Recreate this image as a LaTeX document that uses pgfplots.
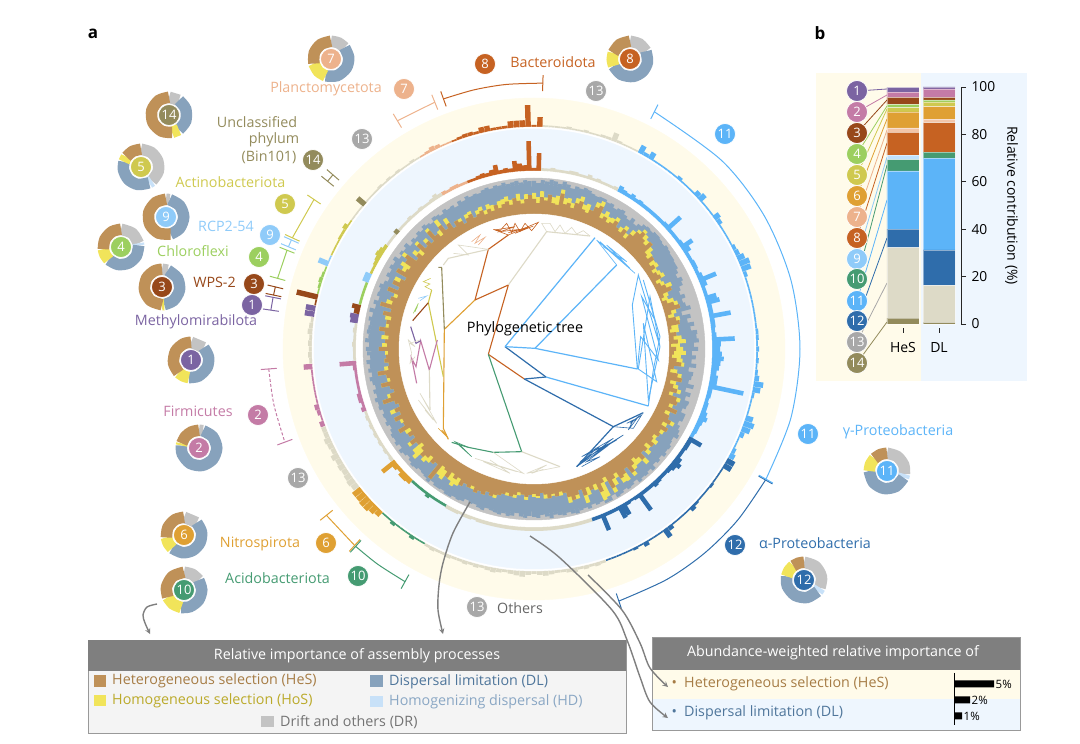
\documentclass[border=0pt]{standalone}
\usepackage{fontspec}
\setmainfont{Open Sans}
\usepackage{pgfplots}
\usepackage{pgfplotstable}
\usepgfplotslibrary{polar}
\pgfplotsset{compat=1.18}

\definecolor{c1}{HTML}{7B64A2}
\definecolor{c2}{HTML}{C47BA6}
\definecolor{c3}{HTML}{97481A}
\definecolor{c4}{HTML}{9CCF5F}
\definecolor{c5}{HTML}{CFC94F}
\definecolor{c6}{HTML}{DFA033}
\definecolor{c7}{HTML}{EDB28C}
\definecolor{c8}{HTML}{C66222}
\definecolor{c9}{HTML}{8FCBF9}
\definecolor{c10}{HTML}{459B72}
\definecolor{c11}{HTML}{5CB4F8}
\definecolor{c12}{HTML}{2F6DAB}
\definecolor{c13}{HTML}{DDDAC7}
\definecolor{n13}{HTML}{A8A8A8}
\definecolor{c14}{HTML}{938B5C}
\definecolor{hes}{HTML}{BF9158}
\definecolor{hos}{HTML}{F1E45A}
\definecolor{dl}{HTML}{87A2BC}
\definecolor{hd}{HTML}{C8E1F8}
\definecolor{dr}{HTML}{C3C3C3}
\definecolor{payel}{HTML}{FFFBEA}
\definecolor{pablu}{HTML}{EEF6FE}
\definecolor{hdr}{HTML}{7F7F7F}
\definecolor{thes}{HTML}{A67C45}
\definecolor{thos}{HTML}{BBAA2A}
\definecolor{tdl}{HTML}{4F769B}
\definecolor{thd}{HTML}{8AA7C4}

% t = degrees clockwise from the top; a,b,c = outer radius of HeS, HoS, DL
% d,e = outer radius of the bar in the blue and yellow band; p = phylum
\pgfplotstableread{
t a b c d e p
0 150 156 168 181 224 8
1.5 146 152 166 196 232 8
3 152 158 169 181 224 13
4.5 149 152 168 181 224 13
6 155 155 170 182 224 13
7.5 147 153 169 181 224 13
9 146 155 167 181 225 13
10.5 158 162 170 181 224 13
12 148 154 168 182 224 13
13.5 150 155 165 182 225 13
15 146 151 168 181 224 13
16.5 152 157 167 181 224 13
18 155 160 169 183 225 13
19.5 148 153 168 181 225 13
21 146 155 166 182 231 13
22.5 150 150 165 181 225 13
24 155 160 166 181 224 13
25.5 158 163 166 181 224 13
27 147 152 164 182 224 13
28.5 150 156 165 185 231 11
30 146 152 162 183 226 11
31.5 148 153 164 182 230 11
33 152 156 165 184 224 11
34.5 147 147 162 182 224 11
36 145 150 160 183 224 11
37.5 150 154 164 182 224 11
39 143 148 160 182 224 11
40.5 150 155 163 182 226 11
42 156 159 166 182 224 11
43.5 160 163 167 182 224 11
45 155 160 166 182 224 11
46.5 152 157 168 183 228 11
48 158 158 168 197 230 11
49.5 147 155 167 182 224 11
51 145 151 166 182 224 11
52.5 150 150 168 182 224 11
54 143 149 167 183 229 11
55.5 146 150 166 192 227 11
57 141 146 166 186 224 11
58.5 144 148 165 182 224 11
60 146 150 165 182 224 11
61.5 139 144 163 183 224 11
63 142 146 160 183 226 11
64.5 146 152 164 182 227 11
66 150 150 162 184 230 11
67.5 140 145 158 197 233 11
69 137 143 156 185 232 11
70.5 141 148 160 182 226 11
72 147 151 156 182 224 11
73.5 152 152 158 190 224 11
75 142 147 162 192 224 11
76.5 138 144 152 183 224 11
78 145 149 160 183 224 11
79.5 148 148 156 200 224 11
81 139 146 162 183 224 11
82.5 137 146 158 183 224 11
84 143 143 164 182 224 11
85.5 140 148 163 183 225 11
87 144 152 165 201 225 11
88.5 137 146 160 187 224 11
90 142 149 164 186 225 11
91.5 140 152 158 188 224 11
93 138 147 162 190 225 11
94.5 143 149 158 187 224 11
96 148 151 163 186 225 11
97.5 141 141 156 184 227 11
99 138 145 161 186 232 11
100.5 146 150 160 186 230 11
102 151 151 158 214 225 11
103.5 140 146 164 183 224 11
105 144 149 157 183 224 11
106.5 149 153 163 182 224 11
108 142 146 159 183 230 11
109.5 151 155 164 183 233 11
111 153 153 163 185 231 11
112.5 146 150 160 187 227 11
114 156 156 165 184 224 11
115.5 145 150 165 183 224 11
117 151 151 162 183 226 11
118.5 155 159 165 182 228 11
120 148 153 167 193 231 12
121.5 156 156 169 183 231 12
123 150 154 165 183 224 12
124.5 152 152 166 182 224 12
126 147 151 168 182 224 12
127.5 149 155 167 185 225 12
129 153 153 169 188 224 12
130.5 146 152 166 185 224 12
132 151 156 168 183 224 12
133.5 149 149 166 182 225 12
135 155 161 170 182 227 12
136.5 150 155 167 183 224 12
138 147 155 169 184 224 12
139.5 152 157 168 182 224 12
141 158 162 170 182 224 12
142.5 150 150 166 182 227 12
144 154 162 168 199 232 12
145.5 156 161 169 182 224 12
147 148 153 167 181 224 12
148.5 152 159 169 182 224 12
150 160 165 170 191 227 12
151.5 146 151 166 192 224 12
153 150 165 170 182 225 12
154.5 158 167 170 182 224 12
156 148 154 167 182 224 12
157.5 152 152 168 196 224 12
159 148 156 166 182 224 12
160.5 155 163 169 182 224 12
162 148 148 167 182 225 13
163.5 152 156 168 182 226 13
165 156 156 170 182 225 13
166.5 152 158 169 182 226 13
168 147 147 167 182 225 13
169.5 145 149 169 182 227 13
171 149 149 168 182 226 13
172.5 146 148 167 182 225 13
174 150 150 170 182 225 13
175.5 146 150 168 182 226 13
177 144 144 166 182 227 13
178.5 147 149 169 182 226 13
180 145 148 168 182 225 13
181.5 146 146 167 182 226 13
183 148 151 169 182 228 13
184.5 146 146 168 182 227 13
186 144 147 165 182 226 13
187.5 147 150 168 182 225 13
189 149 149 169 182 226 13
190.5 146 149 167 182 227 13
192 148 148 169 182 226 13
193.5 150 150 168 182 225 13
195 151 154 167 182 226 13
196.5 153 153 166 182 225 13
198 150 150 169 182 226 13
199.5 154 154 168 181 225 13
201 152 152 166 182 225 13
202.5 155 155 167 182 226 13
204 150 153 165 181 225 13
205.5 153 153 168 182 225 13
207 151 151 169 182 226 13
208.5 155 155 168 182 225 13
210 149 157 170 181 224 10
211.5 152 160 170 181 224 10
213 148 156 168 181 226 10
214.5 155 155 169 181 224 10
216 150 160 169 183 224 10
217.5 148 158 167 181 224 10
219 166 166 170 181 226 10
220.5 150 150 168 181 224 10
222 153 153 167 181 224 10
223.5 148 155 166 184 229 6
225 152 158 168 185 231 6
226.5 155 155 169 185 233 6
228 150 162 167 182 233 6
229.5 146 158 165 184 232 6
231 150 150 167 195 232 6
232.5 155 158 169 182 229 13
234 148 148 165 181 230 13
235.5 152 152 168 182 229 13
237 147 153 166 181 228 13
238.5 158 158 167 182 229 13
240 150 150 165 181 228 13
241.5 149 152 163 182 230 13
243 156 156 166 181 227 13
244.5 148 148 164 182 228 13
246 152 157 165 181 229 13
247.5 146 146 163 182 227 13
249 149 149 166 181 227 13
250.5 160 160 165 183 227 2
252 151 154 167 181 224 2
253.5 146 146 164 183 226 2
255 149 149 166 183 227 2
256.5 157 157 163 181 224 2
258 147 150 165 181 224 2
259.5 150 150 167 181 224 2
261 158 158 164 181 224 2
262.5 147 151 167 181 224 2
264 146 146 165 182 224 2
265.5 150 150 168 195 231 2
267 148 148 164 181 225 13
268.5 146 149 167 181 226 13
270 155 155 168 181 225 13
271.5 147 152 165 182 226 13
273 149 149 169 181 225 13
274.5 146 153 166 181 227 13
276 150 150 168 182 226 13
277.5 156 156 167 181 225 13
279 147 150 166 186 232 1
280.5 150 150 168 187 232 1
282 146 152 165 184 224 3
283.5 155 155 169 187 244 3
285 148 148 164 181 224 4
286.5 160 160 167 181 225 4
288 149 155 163 181 226 4
289.5 152 152 166 181 225 4
291 146 150 165 181 224 4
292.5 158 158 167 185 233 9
294 148 148 164 185 224 9
295.5 156 156 161 181 224 5
297 150 156 165 181 224 5
298.5 146 146 163 182 224 5
300 158 158 166 183 225 5
301.5 150 154 164 185 225 5
303 148 158 167 184 227 5
304.5 155 155 162 182 224 5
306 158 162 165 181 224 13
307.5 147 147 163 181 224 13
309 150 155 166 181 224 13
310.5 145 151 161 183 232 14
312 156 159 164 181 224 13
313.5 148 148 162 181 224 13
315 151 155 165 181 224 13
316.5 147 147 163 182 225 13
318 158 161 166 181 224 13
319.5 150 150 164 181 225 13
321 146 152 162 182 224 13
322.5 155 162 166 181 225 13
324 148 148 165 181 224 13
325.5 152 158 163 182 224 13
327 145 145 166 184 225 13
328.5 150 150 164 182 224 13
330 147 150 165 182 224 7
331.5 143 143 162 181 225 7
333 147 151 166 182 227 7
334.5 149 152 164 182 226 7
336 144 144 167 181 224 7
337.5 146 150 165 181 224 7
339 148 152 166 181 224 8
340.5 143 147 165 181 225 8
342 147 152 167 182 226 8
343.5 144 150 168 183 226 8
345 149 149 166 182 225 8
346.5 145 152 168 184 228 8
348 148 153 167 188 228 8
349.5 150 155 169 182 225 8
351 146 151 167 183 225 8
352.5 152 152 168 182 225 8
354 149 156 169 189 229 8
355.5 146 150 167 186 229 8
357 150 155 169 184 229 8
358.5 154 154 168 208 244 8
}\rings

\pgfplotsset{
  pie/.style={hide axis,scale only axis,width=35.5pt,height=35.5pt,ymin=0,ymax=1,clip=false,
    anchor=center,x coord trafo/.code={\pgfmathparse{90-##1}}},
  ring/.style={polar comb,no marks,line cap=butt},
  px/.style={hide axis,scale only axis,clip=false,anchor=south west,y dir=reverse,clip mode=individual},
}
% one donut: centre in picture pixels, then its sectors
\newcommand\donut[3]{%
  \begin{polaraxis}[pie,at={(#1pt,{(744-#2)*1pt})}]#3\end{polaraxis}}
\newcommand\sct[2]{\addplot[#1,smooth,line width=11.5pt] coordinates {#2};}
% arc of a phylum around the rings, with its two end ticks
\newcommand\phy[5][]{%
  \addplot[#2,line width=1pt,smooth,#1] coordinates {(#3,266) #5 (#4,266)};
  \addplot[#2,line width=1pt] coordinates {(#3,258)(#3,274)};
  \addplot[#2,line width=1pt] coordinates {(#4,258)(#4,274)};}
% overlay helpers, all in picture pixels
\newcommand\rect[5]{\addplot[fill=#1,draw=none] coordinates {(#2,#3)(#4,#3)(#4,#5)(#2,#5)} -- cycle;}
\newcommand\nm[4]{\node[circle,fill=#4,draw=white,line width=.7pt,minimum size=21pt,inner sep=0pt,text=white,
  font=\fontsize{13}{14}\selectfont] at (axis cs:#1,#2) {#3};}
\newcommand\lab[4]{\node[text=#3,font=\fontsize{14.3}{16}\selectfont,inner sep=0pt] at (axis cs:#1,#2) {#4};}
\newcommand\lft[4]{\node[text=#3,font=\fontsize{14.3}{16}\selectfont,inner sep=0pt,anchor=west] at (axis cs:#1,#2) {#4};}
\newcommand\leader[3]{\addplot[#1,line width=.8pt] coordinates {(857,#2)(887,#3)};}
\newcommand\tree[3][.6pt]{\addplot[#2,line width=#1] coordinates {#3};}

\begin{document}
\begin{tikzpicture}
\path[use as bounding box] (0,0) rectangle (1080pt,744pt);

% ---- main rings ----
\begin{polaraxis}[at={(534pt,395pt)},anchor=center,hide axis,scale only axis,width=600pt,height=600pt,
    ymin=0,ymax=300,clip=false,clip mode=individual,x coord trafo/.code={\pgfmathparse{90-#1}},
    disc/.style={only marks,mark=*,mark size=#1,mark options={draw=none}}]
  \addplot[disc=251pt,payel] coordinates {(0,0)};
  \pgfplotsinvokeforeach{1,...,14}{
    \addplot[ring,c#1,line width=5.4pt,restrict expr to domain={\thisrow{p}}{#1:#1}] table[x=t,y=e] {\rings};
  }
  \addplot[disc=222pt,white] coordinates {(0,0)};
  \addplot[disc=220pt,pablu] coordinates {(0,0)};
  \pgfplotsinvokeforeach{1,...,14}{
    \addplot[ring,c#1,line width=4.6pt,restrict expr to domain={\thisrow{p}}{#1:#1}] table[x=t,y=d] {\rings};
  }
  \addplot[disc=178pt,white] coordinates {(0,0)};
  \addplot[disc=171pt,dr] coordinates {(0,0)};
  \addplot[ring,dl,line width=4pt] table[x=t,y=c] {\rings};
  \addplot[ring,hos,line width=4pt] table[x=t,y=b] {\rings};
  \addplot[ring,hes,line width=4pt] table[x=t,y=a] {\rings};
  \addplot[disc=135pt,white] coordinates {(0,0)};
  % phylum arcs
  \phy{c8}{1.9}{340.1}{(354,266)(347,266)}
  \phy{c7}{338.1}{329.1}{}
  \phy{c14}{310.9}{309.1}{}
  \phy{c5}{304.2}{294.7}{}
  \phy{c9}{294.2}{292.6}{}
  \phy{c4}{291.8}{285.4}{}
  \phy{c3}{283.5}{281.7}{}
  \phy{c1}{281.2}{278.4}{}
  \phy[densely dashed]{c2}{265.7}{249.5}{(258,266)}
  \phy{c6}{231.3}{222.4}{}
  \phy{c10}{222.1}{209}{(216,266)}
  \phy{c12}{161.4}{119.5}{(150,266)(140,266)(130,266)}
  \phy{c11}{119.3}{26.9}{(105,266)(90,266)(75,266)(60,266)(45,266)}
\end{polaraxis}

% ---- donuts (sector ends in degrees clockwise from the top) ----
\donut{331}{59}{
  \sct{dr}{(0,1)(25,1)(50,1)}\sct{dl}{(50,1)(85,1)(120,1)(160,1)(198,1)}
  \sct{hos}{(198,1)(225,1)(255,1)}\sct{hes}{(255,1)(290,1)(325,1)(360,1)}}
\donut{630}{59}{
  \sct{dr}{(0,1)(32,1)(64,1)}\sct{dl}{(64,1)(100,1)(135,1)(170,1)(210,1)(247,1)}
  \sct{hos}{(247,1)(268,1)(290,1)}\sct{hes}{(290,1)(325,1)(360,1)}}
\donut{169}{115}{
  \sct{dr}{(0,1)(34,1)}\sct{dl}{(34,1)(70,1)(110,1)(146,1)}
  \sct{hos}{(146,1)(170,1)}\sct{hes}{(170,1)(205,1)(245,1)(285,1)(325,1)(360,1)}}
\donut{141}{167}{
  \sct{dr}{(0,1)(35,1)(70,1)(105,1)(142,1)}\sct{hd}{(142,1)(153,1)}
  \sct{dl}{(153,1)(190,1)(225,1)(260,1)(287,1)}\sct{hos}{(287,1)(305,1)}\sct{hes}{(305,1)(332,1)(360,1)}}
\donut{166}{217}{
  \sct{dr}{(0,1)(12,1)}\sct{dl}{(12,1)(50,1)(90,1)(130,1)(165,1)}
  \sct{hes}{(165,1)(205,1)(245,1)(285,1)(325,1)(360,1)}}
\donut{121}{247}{
  \sct{dr}{(0,1)(40,1)(78,1)}\sct{hd}{(78,1)(85,1)}
  \sct{dl}{(85,1)(120,1)(155,1)(190,1)(224,1)}\sct{hos}{(224,1)(245,1)(263,1)}\sct{hes}{(263,1)(295,1)(330,1)(360,1)}}
\donut{162}{287}{
  \sct{dr}{(0,1)(19,1)}\sct{dl}{(19,1)(60,1)(100,1)(140,1)(173,1)}
  \sct{hos}{(173,1)(180,1)}\sct{hes}{(180,1)(220,1)(260,1)(300,1)(335,1)(360,1)}}
\donut{191}{360}{
  \sct{dr}{(0,1)(46,1)}\sct{dl}{(46,1)(80,1)(115,1)(155,1)(187,1)}
  \sct{hos}{(187,1)(205,1)(224,1)}\sct{hes}{(224,1)(260,1)(300,1)(335,1)(360,1)}}
\donut{199}{448}{
  \sct{dr}{(0,1)(13,1)}\sct{dl}{(13,1)(50,1)(90,1)(130,1)(170,1)(210,1)(250,1)(278,1)}
  \sct{hos}{(278,1)(285,1)}\sct{hes}{(285,1)(310,1)(335,1)(360,1)}}
\donut{184}{535}{
  \sct{dr}{(0,1)(46,1)}\sct{dl}{(46,1)(80,1)(115,1)(150,1)(185,1)(222,1)}
  \sct{hos}{(222,1)(242,1)(262,1)}\sct{hes}{(262,1)(295,1)(330,1)(360,1)}}
\donut{184}{590}{
  \sct{dr}{(0,1)(28,1)(56,1)}\sct{dl}{(56,1)(90,1)(125,1)(160,1)(189,1)}
  \sct{hos}{(189,1)(218,1)(246,1)}\sct{hes}{(246,1)(280,1)(320,1)(360,1)}}
\donut{887}{471}{
  \sct{dr}{(0,1)(35,1)(70,1)(100,1)}\sct{hd}{(100,1)(112,1)}
  \sct{dl}{(112,1)(150,1)(190,1)(230,1)(270,1)}\sct{hos}{(270,1)(292,1)(315,1)}\sct{hes}{(315,1)(338,1)(360,1)}}
\donut{804}{580}{
  \sct{dr}{(0,1)(40,1)(80,1)(116,1)}\sct{hd}{(116,1)(130,1)}
  \sct{dl}{(130,1)(170,1)(210,1)(250,1)(282,1)}\sct{hos}{(282,1)(303,1)(323,1)}\sct{hes}{(323,1)(342,1)(360,1)}}

% ---- everything in picture pixels ----
\begin{axis}[px,at={(0,0)},width=1080pt,height=744pt,xmin=0,xmax=1080,ymin=0,ymax=744]
  % panel b backdrop and leaders
  \rect{payel}{816}{73}{921}{381}
  \rect{pablu}{921}{73}{1027}{381}
  \leader{c1}{91}{89}\leader{c2}{112}{95}\leader{c3}{133}{100}\leader{c4}{154}{106}
  \leader{c5}{175}{109}\leader{c6}{196}{119}\leader{c7}{217}{130}\leader{c8}{238}{143}
  \leader{c9}{259}{157}\leader{c10}{279}{165}\leader{c11}{301}{200}\leader{c12}{321}{238}
  \leader{n13}{342}{283}\leader{c14}{363}{322}

  % left legend box
  \addplot[fill=black!4.5,draw=black!40,line width=.8pt] coordinates {(88,640)(626,640)(626,733)(88,733)} -- cycle;
  \rect{hdr}{88}{640}{626}{671}
  \node[text=white,font=\fontsize{14.3}{16}\selectfont] at (axis cs:357,656) {Relative importance of assembly processes};
  \rect{hes}{94}{675}{106}{687}\lft{112}{681}{thes}{Heterogeneous selection (HeS)}
  \rect{hos}{94}{695}{106}{706}\lft{112}{701}{thos}{Homogeneous selection (HoS)}
  \rect{dl}{370}{675}{383}{687}\lft{389}{682}{tdl}{Dispersal limitation (DL)}
  \rect{hd}{370}{696}{383}{707}\lft{389}{702}{thd}{Homogenizing dispersal (HD)}
  \rect{dr}{261}{716}{274}{727}\lft{280}{722}{black!55}{Drift and others (DR)}

  % right legend box
  \rect{hdr}{652}{637}{1020}{670}
  \rect{payel}{652}{670}{1020}{699}
  \rect{pablu}{652}{699}{1020}{730}
  \addplot[draw=black!40,line width=.8pt] coordinates {(652,637)(1020,637)(1020,730)(652,730)} -- cycle;
  \node[text=white,font=\fontsize{14.3}{16}\selectfont] at (axis cs:833,653) {Abundance-weighted relative importance of};
  \lft{671.5}{684}{thes}{•}\lft{684}{684}{thes}{Heterogeneous selection (HeS)}
  \lft{671.5}{713}{tdl}{•}\lft{684}{713}{tdl}{Dispersal limitation (DL)}

  % curved arrows, on top of the boxes
  \addplot[hdr,line width=1.4pt,smooth,-stealth] coordinates {(470,502)(453,533)(443,563)(439,585)(438,610)(443,634)};
  \addplot[hdr,line width=1.4pt,smooth,-stealth] coordinates {(157,604)(147,607)(143,615)(145,623)(150,634)};
  \addplot[hdr,line width=1.4pt,smooth,-stealth] coordinates {(530,536)(560,558)(612,610)(627,640)(640,677)(650,702)(668,718)};
  \addplot[hdr,line width=1.4pt,smooth,-stealth] coordinates {(588,575)(622,610)(640,643)(650,668)(668,687)};

  % panel letters
  \node[font=\fontsize{17}{18}\selectfont\bfseries] at (axis cs:93,34) {a};
  \node[font=\fontsize{17}{18}\selectfont\bfseries] at (axis cs:820,33) {b};

  % phylum names
  \lab{553}{62}{c8}{Bacteroidota}
  \lab{326}{89}{c7}{Planctomycetota}
  \lab{257}{122}{c14}{Unclassified}
  \lab{274}{140}{c14}{phylum}
  \lab{269}{157}{c14}{(Bin101)}
  \lab{230.5}{182}{c5}{Actinobacteriota}
  \lab{226}{226}{c9}{RCP2-54}
  \lab{193}{251}{c4}{Chloroflexi}
  \lab{214.5}{282}{c3}{WPS-2}
  \lab{196}{322}{c1}{Methylomirabilota}
  \lab{198}{411}{c2}{Firmicutes}
  \lab{260}{544}{c6}{Nitrospirota}
  \lab{277.5}{578}{c10}{Acidobacteriota}
  \lab{520}{608}{black!60}{Others}
  \lab{815}{543}{c12}{α-Proteobacteria}
  \lab{898}{432}{c11}{γ-Proteobacteria}

  % numbered circles beside the rings
  \nm{485}{64}{8}{c8}\nm{404}{89}{7}{c7}\nm{596}{91}{13}{n13}\nm{362}{139}{13}{n13}
  \nm{313}{160}{14}{c14}\nm{285}{204}{5}{c5}\nm{270}{235}{9}{c9}\nm{259}{257}{4}{c4}
  \nm{254}{284}{3}{c3}\nm{252}{305}{1}{c1}\nm{258}{415}{2}{c2}\nm{298}{478}{13}{n13}
  \nm{326}{543}{6}{c6}\nm{358}{576}{10}{c10}\nm{477}{607}{13}{n13}\nm{735}{545}{12}{c12}
  \nm{808}{434}{11}{c11}\nm{725}{134}{11}{c11}
  % numbered circles in the donuts
  \nm{331}{59}{7}{c7}\nm{630}{59}{8}{c8}\nm{169}{115}{14}{c14}\nm{141}{167}{5}{c5}
  \nm{166}{217}{9}{c9}\nm{121}{247}{4}{c4}\nm{162}{287}{3}{c3}\nm{191}{360}{1}{c1}
  \nm{199}{448}{2}{c2}\nm{184}{535}{6}{c6}\nm{184}{590}{10}{c10}\nm{887}{471}{11}{c11}
  \nm{804}{580}{12}{c12}
  % numbered circles in panel b
  \nm{857}{91}{1}{c1}\nm{857}{112}{2}{c2}\nm{857}{133}{3}{c3}\nm{857}{154}{4}{c4}
  \nm{857}{175}{5}{c5}\nm{857}{196}{6}{c6}\nm{857}{217}{7}{c7}\nm{857}{238}{8}{c8}
  \nm{857}{259}{9}{c9}\nm{857}{279}{10}{c10}\nm{857}{301}{11}{c11}\nm{857}{321}{12}{c12}
  \nm{857}{342}{13}{n13}\nm{857}{363}{14}{c14}
\end{axis}

% ---- phylogenetic tree, units are a third of a pixel ----
\begin{axis}[px,at={(400pt,264pt)},width=320pt,height=290pt,xmin=0,xmax=960,ymin=0,ymax=870]
  \tree[1.1pt]{c8}{(265,493)(325,285)(225,330)(265,178)(325,135)}
  \tree[1.1pt]{c8}{(265,493)(373,567)}
  \tree[1.1pt]{c6}{(225,330)(133,418)(130,715)(145,748)}
  \tree[1.1pt]{c5}{(130,560)(85,338)(95,300)}
  \tree{c5}{(95,300)(75,290)(90,282)(70,275)(92,265)}
  \tree[1.1pt]{c3}{(85,338)(38,392)}
  \tree[1.1pt]{c14}{(133,418)(125,232)(115,232)}
  \tree[1.1pt]{c13}{(325,285)(440,125)(570,138)}
  \tree{c13}{(440,125)(425,100)(450,100)(465,125)(480,105)(495,130)(515,112)(530,132)(550,122)(570,138)}
  \tree[1.1pt]{c13}{(265,178)(145,205)(130,225)}
  \tree{c13}{(265,178)(175,165)(205,195)(160,190)}
  \tree{c8}{(325,135)(415,97)(395,122)(375,100)(360,125)(345,100)(335,128)(320,100)(300,122)(280,118)(325,135)}
  \tree{c8}{(285,120)(345,110)(300,125)(360,118)(325,128)(385,112)(345,130)(400,108)}
  \tree{c7}{(215,155)(240,135)(225,160)(255,142)(235,165)}
  \tree[1.1pt]{c2}{(112,450)(88,540)(62,452)(48,530)(35,505)(50,580)}
  \tree[1.1pt]{c1}{(32,410)(48,460)(62,452)}
  \tree{c9}{(55,325)(80,318)(60,332)}
  \tree{c4}{(40,370)(55,340)(45,365)(52,350)}
  \tree[1.1pt]{c13}{(88,540)(90,660)}
  \tree{c13}{(90,660)(60,610)(110,700)(55,630)(100,690)(75,660)}
  \tree{c13}{(60,450)(30,460)(45,470)(25,450)(35,490)(30,520)(45,500)}
  \tree[1.1pt]{c10}{(265,493)(365,785)(280,787)(205,772)(155,757)}
  \tree{c10}{(205,772)(165,755)(215,800)(180,765)(205,790)}
  \tree[1.1pt]{c13}{(365,785)(480,830)}
  \tree{c13}{(480,830)(380,850)(440,825)(395,850)(430,838)}
  \tree{c13}{(280,787)(370,850)(225,805)(350,845)(250,815)(330,850)(270,810)}
  \tree{c6}{(115,715)(145,745)(125,720)(140,735)}
  \tree[1.2pt]{c12}{(373,567)(640,710)(730,668)}
  \tree[1.2pt]{c12}{(373,567)(438,561)}
  \tree[1.2pt]{c12}{(315,470)(438,561)}
  \tree[1.2pt]{c12}{(640,710)(530,830)}
  \tree{c12}{(640,710)(700,715)(725,675)(690,700)(715,680)(685,720)(700,690)(680,700)}
  \tree{c12}{(530,830)(670,735)(540,815)(650,750)(545,800)(640,745)(535,825)(590,775)(620,770)(560,815)(600,800)(545,830)}
  \tree[1.2pt]{c11}{(438,561)(745,648)}
  \tree[1.2pt]{c11}{(315,470)(585,143)}
  \tree[1.2pt]{c11}{(315,470)(405,475)(650,225)}
  \tree[1.2pt]{c11}{(405,475)(712,537)}
  \tree{c11}{(650,225)(590,150)(705,250)(600,155)(690,235)(620,165)(680,215)(610,170)(660,205)(640,190)}
  \tree[.9pt]{c11}{(712,537)(697,345)(715,255)(780,470)(745,630)(730,400)(770,575)(715,537)(750,320)(780,470)}
  \tree[.9pt]{c11}{(712,537)(722,440)(775,510)(725,320)(765,390)(730,270)(780,440)(760,540)(745,648)}
  \node[font=\fontsize{14.4}{16}\selectfont] at (axis cs:375,415) {Phylogenetic tree};
\end{axis}

% ---- panel b ----
\begin{axis}[scale only axis,at={(887pt,420pt)},anchor=south west,width=74pt,height=237pt,
    ybar stacked,bar width=32pt,xmin=-0.444,xmax=1.611,ymin=0,ymax=100,clip=false,
    axis y line=right,axis x line=none,
    ytick={0,20,...,100},y axis line style={-,line width=.9pt,black!85},
    tick style={black!85,line width=.8pt},major tick length=5pt,
    tick align=outside,
    yticklabel style={font=\fontsize{13.8}{15}\selectfont,xshift=2pt},
    /pgf/number format/assume math mode=true,
    ylabel={Relative contribution (\%)},ylabel shift=3pt,
    ylabel style={font=\fontsize{14}{16}\selectfont,rotate=180},
    every axis plot/.append style={draw=white,draw opacity=.45,line width=.4pt}]
  \addplot[fill=c14] coordinates {(0,2.5)(1,0.7)};
  \addplot[fill=c13] coordinates {(0,29.7)(1,15.6)};
  \addplot[fill=c12] coordinates {(0,7.8)(1,15)};
  \addplot[fill=c11] coordinates {(0,24.6)(1,38.7)};
  \addplot[fill=c10] coordinates {(0,4.8)(1,2.5)};
  \addplot[fill=c9!55!white] coordinates {(0,1.8)(1,0)};
  \addplot[fill=c8] coordinates {(0,9.6)(1,12.5)};
  \addplot[fill=c7!75!white] coordinates {(0,1.9)(1,1.4)};
  \addplot[fill=c6] coordinates {(0,6.8)(1,5.3)};
  \addplot[fill=c5] coordinates {(0,1.8)(1,2)};
  \addplot[fill=c4] coordinates {(0,1.4)(1,0.9)};
  \addplot[fill=c3] coordinates {(0,2.9)(1,1)};
  \addplot[fill=c2] coordinates {(0,2.2)(1,3.6)};
  \addplot[fill=c1] coordinates {(0,2)(1,0.8)};
  \node[font=\fontsize{14}{16}\selectfont] at (axis cs:0,-10) {HeS};
  \node[font=\fontsize{14}{16}\selectfont] at (axis cs:1,-10) {DL};
  \draw[black!85,line width=.8pt] (axis cs:0,-1.7) -- (axis cs:0,-3.8);
  \draw[black!85,line width=.8pt] (axis cs:1,-1.7) -- (axis cs:1,-3.8);
\end{axis}

% ---- small bars in the right box ----
\begin{axis}[scale only axis,at={(954pt,19pt)},anchor=south west,width=40pt,height=52pt,
    xbar,bar width=7pt,xmin=0,xmax=5,ymin=-0.6875,ymax=2.5625,y dir=reverse,clip=false,
    axis y line=left,axis x line=none,ytick=\empty,y axis line style={-,line width=.9pt,black},
    nodes near coords={\pgfmathprintnumber\pgfplotspointmeta\%},
    nodes near coords style={font=\fontsize{11.5}{12}\selectfont,inner sep=1.5pt},
    /pgf/number format/assume math mode=true]
  \addplot[fill=black,draw=none] coordinates {(5,0)(2,1)(1,2)};
\end{axis}
\end{tikzpicture}
\end{document}
